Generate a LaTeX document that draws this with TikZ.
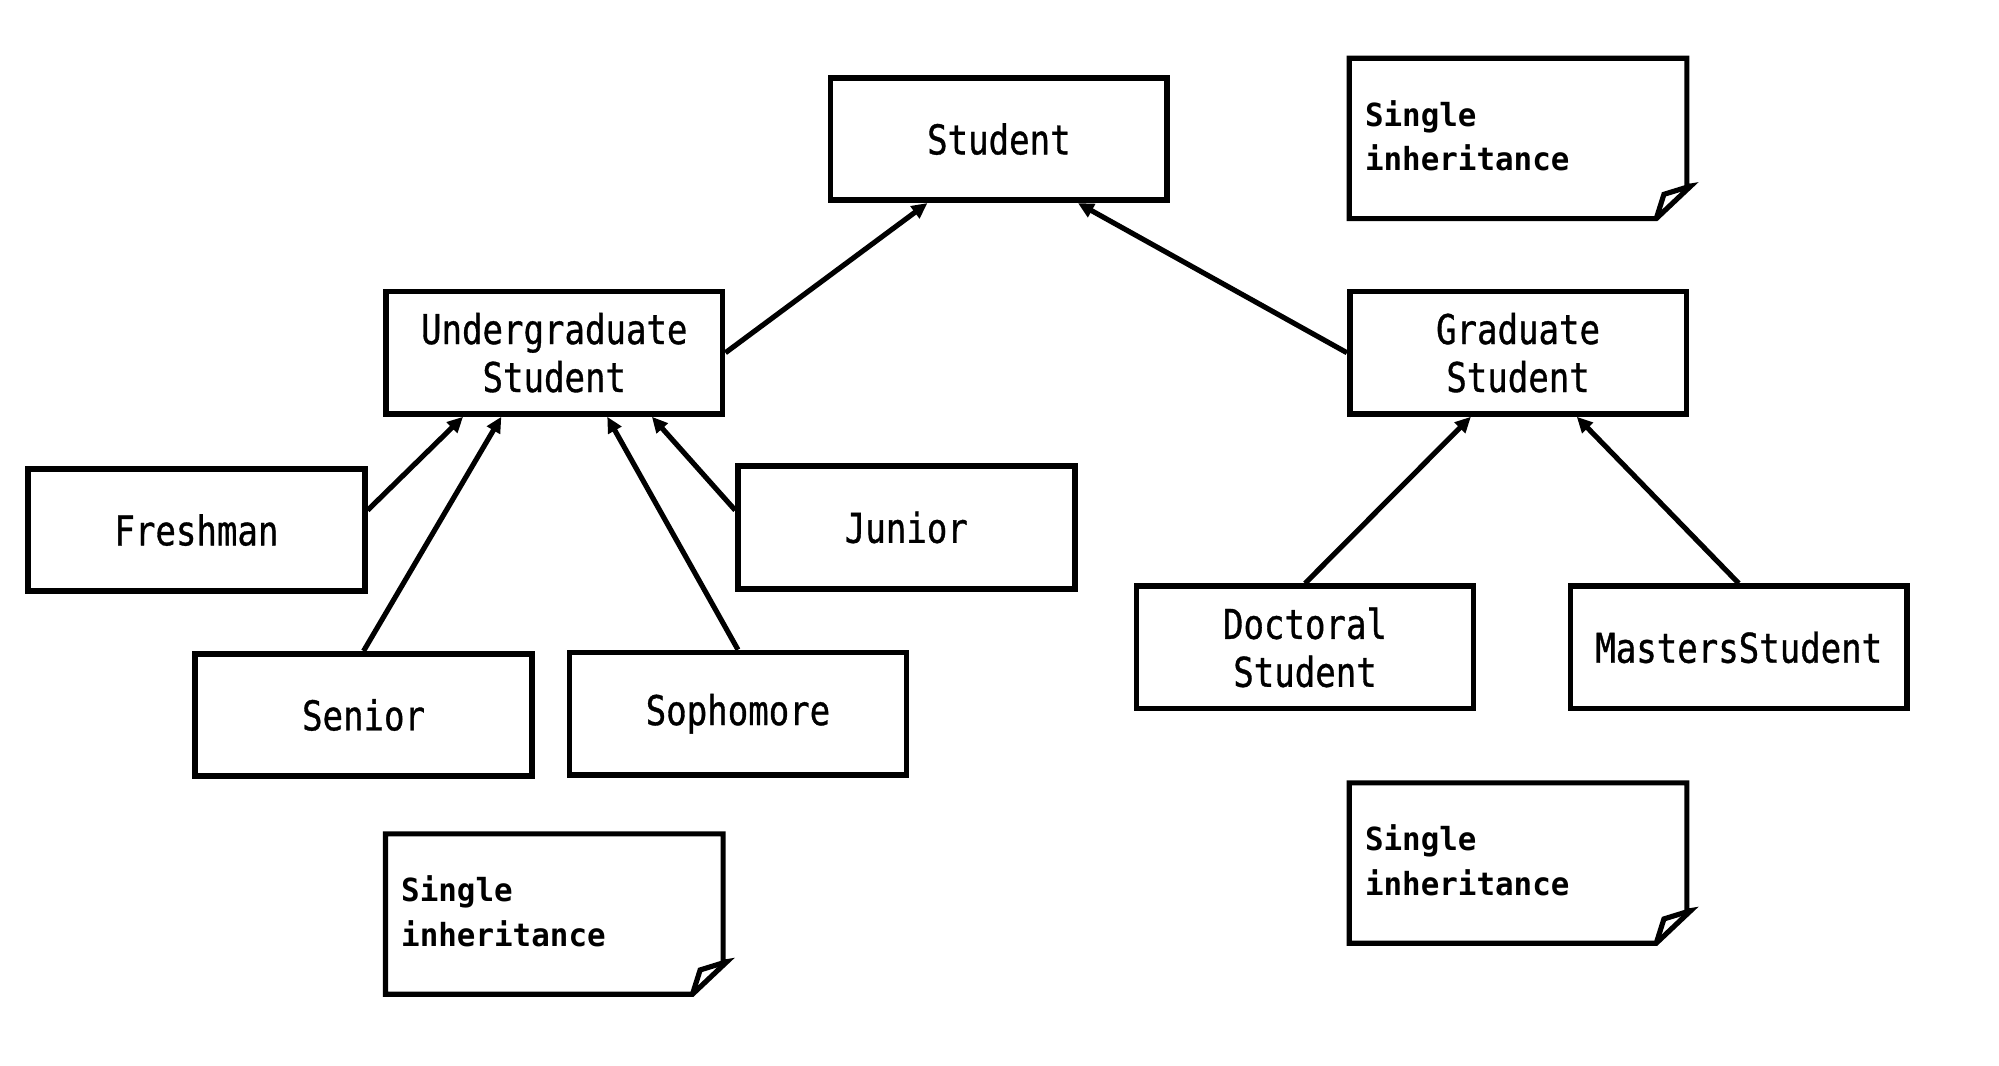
\documentclass[tikz,border=0pt]{standalone}
\usepackage{fontspec}
\newfontfamily\boxfont{DejaVu Sans Mono}[FakeStretch=0.83,FakeBold=0.8]
\newfontfamily\notefont{DejaVu Sans Mono}[FakeStretch=0.97]
\usepackage{tikz}
\usetikzlibrary{arrows.meta}
\usetikzlibrary{calc}

\begin{document}
\begin{tikzpicture}[x=0.02cm,y=-0.02cm,>={Triangle[length=7pt,width=6.5pt]},
    classbox/.style={draw,line width=2.5pt,minimum width=5.28cm,minimum height=1.92cm,align=center,
        font=\boxfont\fontsize{18.3}{21.4}\selectfont},
    notebox/.style={minimum height=2.5cm,text width=4.8cm,inner xsep=0.24cm,align=left,
        font=\notefont\bfseries\fontsize{14.2}{20}\selectfont},
    inherit/.style={->,line width=2.3pt}]
    \useasboundingbox (0,0) rectangle (1567,835.6);

    	\node[classbox] (student) at (783,109) {Student};
    	\node[classbox] (undergrad) at (434.5,276.5) {Undergraduate\\Student};
    	\node[classbox] (graduate) at (1190,276.5) {Graduate\\Student};
    	\node[classbox] (freshman) at (154,415.5) {Freshman};
    	\node[classbox] (junior) at (710.5,413.5) {Junior};
    	\node[classbox] (senior) at (285,560.5) {Senior};
    	\node[classbox] (sophomore) at (578.5,559.5) {Sophomore};
    	\node[classbox] (doctoral) at (1023,507.5) {Doctoral\\Student};
    	\node[classbox] (masters) at (1363,507.5) {MastersStudent};

    	\node[notebox] (note_1) at (1190,106.5) {Single\\inheritance};
    	\node[notebox] (note_2) at (434.5,714.5) {Single\\inheritance};
    	\node[notebox] (note_3) at (1190,674.5) {Single\\inheritance};

    	% note outlines with folded corner
    	\draw[line width=2.3pt] ($(note_1.north west)+(0,2)$) -- ($(note_1.north east)+(0,2)$) -- ($(note_1.south east)+(0,-23)$) -- ($(note_1.south east)+(3,-23.5)$) -- ($(note_1.south east)+(-24,2)$) -- ($(note_1.south west)+(0,2)$) -- cycle;
    	\draw[line width=2.3pt] ($(note_1.south east)+(-24,2)$) -- ($(note_1.south east)+(-18,-17)$) -- ($(note_1.south east)+(3,-23.5)$);
    	\draw[line width=2.3pt] ($(note_2.north west)+(0,2)$) -- ($(note_2.north east)+(0,2)$) -- ($(note_2.south east)+(0,-23)$) -- ($(note_2.south east)+(3,-23.5)$) -- ($(note_2.south east)+(-24,2)$) -- ($(note_2.south west)+(0,2)$) -- cycle;
    	\draw[line width=2.3pt] ($(note_2.south east)+(-24,2)$) -- ($(note_2.south east)+(-18,-17)$) -- ($(note_2.south east)+(3,-23.5)$);
    	\draw[line width=2.3pt] ($(note_3.north west)+(0,2)$) -- ($(note_3.north east)+(0,2)$) -- ($(note_3.south east)+(0,-23)$) -- ($(note_3.south east)+(3,-23.5)$) -- ($(note_3.south east)+(-24,2)$) -- ($(note_3.south west)+(0,2)$) -- cycle;
    	\draw[line width=2.3pt] ($(note_3.south east)+(-24,2)$) -- ($(note_3.south east)+(-18,-17)$) -- ($(note_3.south east)+(3,-23.5)$);

    	\draw[inherit] (undergrad.east) -- ($(student.south)+(-56,0)$);
    	\draw[inherit] (graduate.west) -- ($(student.south)+(62,0)$);
    	\draw[inherit] ($(freshman.east)+(0,-15.5)$) -- ($(undergrad.south)+(-71.5,0)$);
    	\draw[inherit] (senior.north) -- ($(undergrad.south)+(-41.5,0)$);
    	\draw[inherit] (sophomore.north) -- ($(undergrad.south)+(41.5,0)$);
    	\draw[inherit] ($(junior.west)+(0,-13.5)$) -- ($(undergrad.south)+(76.5,0)$);
    	\draw[inherit] (doctoral.north) -- ($(graduate.south)+(-37,0)$);
    	\draw[inherit] (masters.north) -- ($(graduate.south)+(46,0)$);
\end{tikzpicture}
\end{document}
